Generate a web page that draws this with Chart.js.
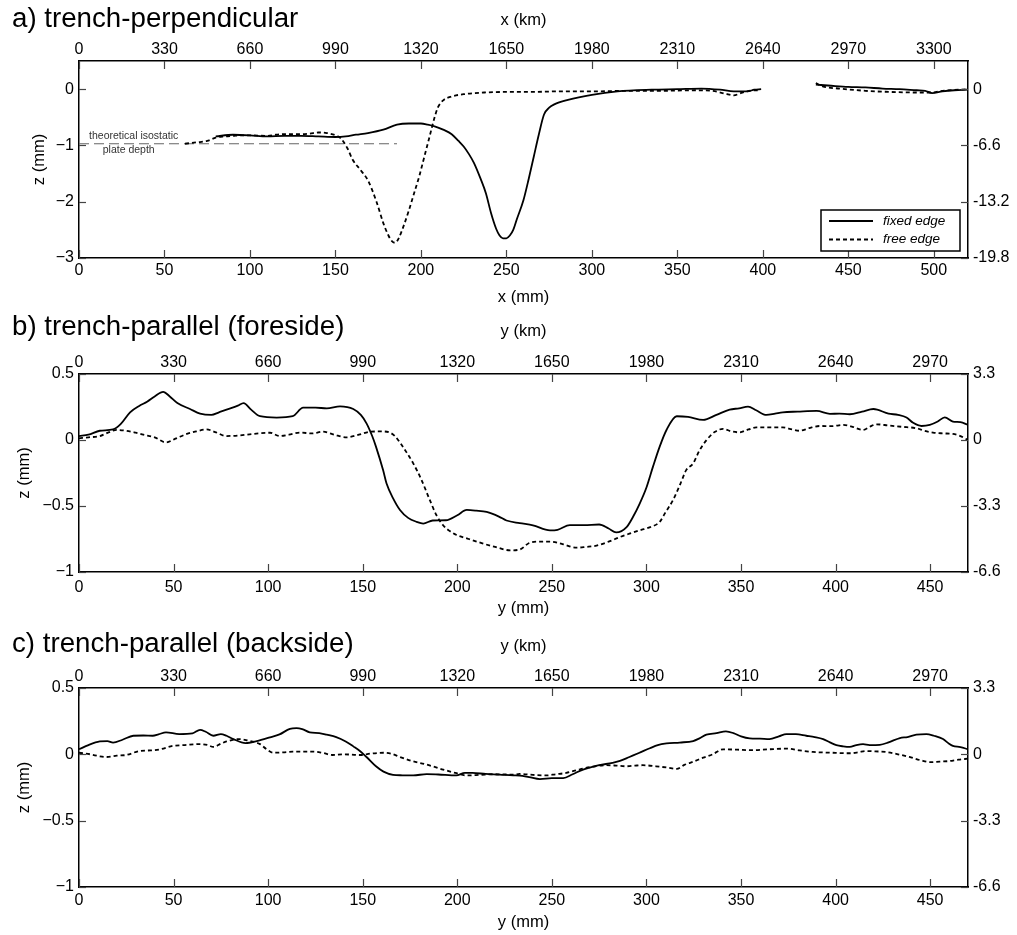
<!DOCTYPE html>
<html>
<head>
<meta charset="utf-8">
<script src="https://cdn.jsdelivr.net/npm/chart.js@4.4.1/dist/chart.umd.min.js"></script>
<style>
	body { margin: 0; background: #fff; }
	canvas { position: absolute; left: 0; }
</style>
</head>
<body>
<canvas id="pa" width="1017" height="310" style="top:0px"></canvas>
<canvas id="pb" width="1017" height="315" style="top:310px"></canvas>
<canvas id="pc" width="1017" height="310" style="top:625px"></canvas>
<script>
// ---- a) trench-perpendicular : x (mm) -> z (mm)
var aFixedX = [80, 90, 100, 110, 120, 130, 140, 150, 156, 162, 169, 178, 186, 193, 200, 204, 208, 213, 218, 222, 225, 228, 231, 235, 238, 241, 244, 246, 248, 250, 252, 254, 256, 260, 263, 266, 269, 272, 275, 278, 286, 300, 315, 335, 350, 364, 375, 383, 391, 395, 399, 415, 431, 440, 450, 460, 470, 480, 490, 495, 499, 505, 512, 520];
var aFixedZ = [-0.84, -0.81, -0.82, -0.84, -0.83, -0.83, -0.84, -0.85, -0.84, -0.81, -0.78, -0.72, -0.63, -0.61, -0.61, -0.63, -0.66, -0.72, -0.8, -0.92, -1.02, -1.15, -1.31, -1.6, -1.85, -2.2, -2.48, -2.6, -2.65, -2.65, -2.6, -2.5, -2.32, -1.97, -1.6, -1.2, -0.8, -0.45, -0.33, -0.27, -0.19, -0.1, -0.04, -0.01, 0, 0.01, -0.01, -0.04, -0.04, -0.01, 0, null, 0.08, 0.06, 0.04, 0.03, 0.01, 0, -0.02, -0.03, -0.07, -0.04, -0.02, -0.01];
var aFreeX = [62, 70, 75, 80, 85, 90, 95, 100, 110, 115, 120, 125, 130, 135, 140, 145, 150, 153, 157, 160, 165, 169, 174, 178, 181, 183, 185, 187, 190, 193, 196, 199, 202, 205, 208, 210, 213, 218, 225, 237, 250, 265, 280, 300, 320, 340, 360, 370, 378, 383, 388, 395, 398, 415, 431, 435, 445, 460, 475, 490, 499, 505, 515, 520];
var aFreeZ = [-0.97, -0.94, -0.92, -0.86, -0.84, -0.83, -0.82, -0.82, -0.83, -0.81, -0.8, -0.8, -0.8, -0.79, -0.77, -0.78, -0.82, -0.87, -1.05, -1.25, -1.45, -1.62, -2.0, -2.38, -2.6, -2.7, -2.73, -2.65, -2.42, -2.15, -1.85, -1.55, -1.2, -0.85, -0.5, -0.32, -0.2, -0.13, -0.09, -0.06, -0.05, -0.05, -0.04, -0.04, -0.03, -0.03, -0.02, -0.03, -0.08, -0.11, -0.06, -0.02, -0.02, null, 0.11, 0.05, 0.01, -0.03, -0.05, -0.06, -0.06, -0.03, -0.01, 0];
var aIsoX = [0, 186];
var aIsoZ = [-0.97, -0.97];

// ---- b) trench-parallel (foreside) : y (mm) -> z (mm)
var bFixedX = [0, 5, 11, 18, 22, 27, 32, 36, 40, 44.5, 48, 52, 58.7, 64, 70, 74, 78, 84, 87, 91, 95.7, 104.5, 113, 118.5, 125, 131, 138, 145, 149, 152, 155, 157, 160.8, 162.6, 166, 169.7, 174, 178.5, 182, 187, 194, 200, 205, 210, 215.5, 222, 226, 233, 240, 249, 253, 259.5, 267, 275, 280, 284, 289.5, 293, 296.5, 300, 303.5, 307, 310.6, 316, 322, 330, 337, 344, 349, 353.7, 358, 363.4, 368, 372, 380, 390, 397, 402, 407.5, 414, 420, 428, 433, 437.5, 441, 445.4, 449.8, 454, 457.7, 462, 466, 470];
var bFixedZ = [0.03, 0.04, 0.07, 0.08, 0.12, 0.21, 0.26, 0.29, 0.33, 0.365, 0.33, 0.28, 0.235, 0.2, 0.19, 0.21, 0.23, 0.26, 0.28, 0.23, 0.18, 0.17, 0.18, 0.245, 0.245, 0.24, 0.255, 0.235, 0.19, 0.126, 0.03, -0.05, -0.23, -0.33, -0.44, -0.53, -0.59, -0.62, -0.633, -0.61, -0.608, -0.57, -0.53, -0.535, -0.545, -0.58, -0.61, -0.63, -0.646, -0.684, -0.68, -0.645, -0.645, -0.64, -0.67, -0.7, -0.66, -0.58, -0.48, -0.36, -0.2, -0.05, 0.076, 0.18, 0.175, 0.152, 0.19, 0.23, 0.24, 0.253, 0.225, 0.19, 0.2, 0.21, 0.215, 0.22, 0.198, 0.2, 0.195, 0.215, 0.235, 0.2, 0.19, 0.17, 0.13, 0.106, 0.114, 0.14, 0.172, 0.14, 0.135, 0.115];
var bFreeX = [0, 5, 11, 16, 20, 25, 30, 34, 40, 46, 51, 57, 62, 67.5, 72, 78, 85, 92, 101, 106, 111, 117, 123, 129, 135, 141.5, 148, 154, 160, 164, 167, 170, 173, 176.7, 181, 185.5, 189, 192.5, 196, 199.6, 206, 213.7, 220, 228, 233, 238, 243, 249, 256, 263, 268, 273.6, 280, 286, 291, 296.5, 302, 307, 310, 314, 318, 321, 324.7, 328, 331.8, 336, 340.5, 345, 349, 354, 358, 365, 372, 377, 381, 386, 391.6, 398, 404, 409, 414.5, 418, 421.6, 428, 435, 442.7, 447, 451.5, 457, 462, 466, 470];
var bFreeZ = [0.013, 0.02, 0.03, 0.06, 0.076, 0.07, 0.055, 0.04, 0.02, -0.018, 0.01, 0.046, 0.065, 0.08, 0.06, 0.03, 0.035, 0.046, 0.055, 0.03, 0.04, 0.056, 0.05, 0.063, 0.04, 0.02, 0.04, 0.063, 0.065, 0.058, 0.03, -0.025, -0.09, -0.177, -0.3, -0.456, -0.57, -0.646, -0.69, -0.72, -0.75, -0.785, -0.81, -0.836, -0.83, -0.78, -0.77, -0.77, -0.79, -0.816, -0.81, -0.8, -0.77, -0.735, -0.71, -0.684, -0.66, -0.62, -0.55, -0.456, -0.33, -0.228, -0.177, -0.08, 0, 0.06, 0.084, 0.065, 0.058, 0.08, 0.096, 0.095, 0.096, 0.08, 0.07, 0.09, 0.106, 0.105, 0.114, 0.1, 0.076, 0.1, 0.119, 0.11, 0.1, 0.089, 0.07, 0.056, 0.05, 0.046, 0.03, 0];

// ---- c) trench-parallel (backside) : y (mm) -> z (mm)
var cFixedX = [0, 5, 11, 15, 18, 23, 28.7, 34, 39, 42, 46, 53, 60, 64, 67, 71, 75, 78, 81.6, 88, 94, 101, 106, 111.5, 115, 118, 122, 127, 131, 136, 141, 145, 148.5, 152, 157, 161, 166, 171, 176.7, 183.8, 190, 199.5, 204, 208, 215, 222.5, 229.5, 233, 238, 243.7, 250, 256, 261, 266.5, 270, 275, 282, 286, 291, 296, 301.8, 306, 310.6, 317.6, 324.7, 328, 331.7, 337, 342, 346, 350, 354.6, 360, 365, 370, 374, 379, 384.5, 389, 393.4, 397, 400.4, 404, 407.5, 411, 414.5, 418, 423.4, 428, 434, 438, 442.7, 448, 452, 456.8, 460, 462, 466, 470];
var cFixedZ = [0.038, 0.07, 0.097, 0.1, 0.089, 0.11, 0.14, 0.142, 0.14, 0.15, 0.166, 0.153, 0.158, 0.185, 0.17, 0.14, 0.153, 0.14, 0.115, 0.085, 0.1, 0.128, 0.15, 0.192, 0.197, 0.19, 0.166, 0.16, 0.148, 0.13, 0.097, 0.06, 0.025, -0.02, -0.09, -0.13, -0.154, -0.158, -0.159, -0.149, -0.152, -0.159, -0.14, -0.14, -0.148, -0.153, -0.159, -0.16, -0.172, -0.187, -0.18, -0.179, -0.15, -0.115, -0.1, -0.082, -0.064, -0.05, -0.02, 0.01, 0.046, 0.07, 0.082, 0.089, 0.1, 0.12, 0.148, 0.16, 0.173, 0.16, 0.135, 0.12, 0.118, 0.115, 0.135, 0.153, 0.152, 0.14, 0.13, 0.115, 0.09, 0.069, 0.06, 0.056, 0.07, 0.077, 0.07, 0.072, 0.09, 0.123, 0.13, 0.148, 0.153, 0.14, 0.115, 0.08, 0.064, 0.055, 0.038];
var cFreeX = [0, 6, 11, 14.6, 20, 25, 32, 38, 43, 49.8, 56, 64, 68, 71, 75, 78, 85, 89, 95.7, 99, 102.7, 108, 113, 118, 124, 129, 134, 140, 148.5, 154, 161, 165, 169.7, 176, 183.8, 188, 192.5, 199, 205, 212, 220, 229.5, 233, 240, 247, 252, 257.6, 263, 268, 273, 278.8, 284, 289.4, 294, 298, 305, 311, 316, 320, 324.7, 330, 335, 340.5, 348, 356, 365, 374, 381, 388, 398, 407.5, 412, 416, 421, 426.7, 433, 439, 445, 450, 455, 460, 465, 470];
var cFreeZ = [0.012, 0, -0.015, -0.02, -0.01, -0.005, 0.025, 0.03, 0.038, 0.064, 0.07, 0.077, 0.07, 0.056, 0.08, 0.097, 0.115, 0.105, 0.077, 0.04, 0.012, 0.015, 0.02, 0.02, 0.02, 0.01, -0.005, 0, -0.005, 0.005, 0.012, 0.005, -0.02, -0.05, -0.077, -0.095, -0.115, -0.14, -0.159, -0.155, -0.15, -0.153, -0.148, -0.155, -0.159, -0.15, -0.14, -0.12, -0.102, -0.09, -0.082, -0.085, -0.09, -0.085, -0.082, -0.09, -0.1, -0.11, -0.08, -0.056, -0.025, 0, 0.038, 0.035, 0.031, 0.038, 0.043, 0.03, 0.018, 0.012, 0.008, 0.015, 0.025, 0.022, 0.018, 0, -0.02, -0.045, -0.059, -0.055, -0.051, -0.04, -0.033];

// ---- tick labels
var aMmTicks = [0, 50, 100, 150, 200, 250, 300, 350, 400, 450, 500];
var aKmTicks = [0, 330, 660, 990, 1320, 1650, 1980, 2310, 2640, 2970, 3300];
var aZTicks = [0, -1, -2, -3];
var aZKmTicks = [0, -6.6, -13.2, -19.8];
var bcMmTicks = [0, 50, 100, 150, 200, 250, 300, 350, 400, 450];
var bcKmTicks = [0, 330, 660, 990, 1320, 1650, 1980, 2310, 2640, 2970];
var bcZTicks = [0.5, 0, -0.5, -1];
var bcZKmTicks = [3.3, 0, -3.3, -6.6];
var kmPerMm = 6.6;

var FONT = '"Liberation Sans", Arial, Helvetica, sans-serif';
Chart.defaults.font.family = FONT;
Chart.defaults.color = '#000';

function pts(xs, zs) {
	return xs.map(function(x, i) { return { x: x, y: zs[i] }; });
}

function minusLabel(v) {
	return v < 0 ? '\u2212' + Math.abs(v) : String(v);
}

function plainLabel(v) {
	return String(v);
}

// ticks pointing into the plot, as in the original figure
var inTicks = {
	id: 'inTicks',
	afterDraw: function(chart) {
		var ctx = chart.ctx, a = chart.chartArea;
		ctx.save();
		ctx.strokeStyle = '#444';
		ctx.lineWidth = 1.2;
		Object.values(chart.scales).forEach(function(s) {
			s.ticks.forEach(function(t) {
				var p = Math.round(s.getPixelForValue(t.value)) + 0.5;
				ctx.beginPath();
				if (s.position === 'left') { ctx.moveTo(a.left, p); ctx.lineTo(a.left + 7, p); }
				if (s.position === 'right') { ctx.moveTo(a.right, p); ctx.lineTo(a.right - 7, p); }
				if (s.position === 'bottom') { ctx.moveTo(p, a.bottom); ctx.lineTo(p, a.bottom - 8); }
				if (s.position === 'top') { ctx.moveTo(p, a.top); ctx.lineTo(p, a.top + 8); }
				ctx.stroke();
			});
		});
		ctx.restore();
	}
};

var panelTitle = {
	id: 'panelTitle',
	afterDraw: function(chart, args, o) {
		if (!o.text) return;
		var ctx = chart.ctx;
		ctx.save();
		ctx.font = '27.7px ' + FONT;
		ctx.fillStyle = '#000';
		ctx.textBaseline = 'alphabetic';
		ctx.fillText(o.text, o.x, o.y);
		ctx.restore();
	}
};

var boxLegend = {
	id: 'boxLegend',
	afterDraw: function(chart, args, o) {
		if (!o.show) return;
		var ctx = chart.ctx;
		ctx.save();
		ctx.fillStyle = '#fff';
		ctx.fillRect(o.x, o.y, o.w, o.h);
		ctx.strokeStyle = '#000';
		ctx.lineWidth = 1.5;
		ctx.strokeRect(o.x, o.y, o.w, o.h);
		var items = chart.data.datasets.filter(function(d) { return d.inLegend; });
		items.forEach(function(d, i) {
			var y = o.y + 11 + i * 18.5;
			ctx.strokeStyle = d.borderColor;
			ctx.lineWidth = d.borderWidth;
			ctx.setLineDash(d.borderDash || []);
			ctx.beginPath();
			ctx.moveTo(o.x + 8, y);
			ctx.lineTo(o.x + 52, y);
			ctx.stroke();
			ctx.setLineDash([]);
			ctx.fillStyle = '#000';
			ctx.font = 'italic 13.5px ' + FONT;
			ctx.textBaseline = 'middle';
			ctx.fillText(d.label, o.x + 62, y);
		});
		ctx.restore();
	}
};

var isoLabel = {
	id: 'isoLabel',
	afterDraw: function(chart, args, o) {
		if (!o.show) return;
		var ctx = chart.ctx;
		var x = chart.scales.x.getPixelForValue(o.at);
		var y = chart.scales.y.getPixelForValue(o.z);
		ctx.save();
		ctx.font = '10.5px ' + FONT;
		ctx.fillStyle = '#333';
		ctx.textAlign = 'center';
		ctx.textBaseline = 'middle';
		ctx.fillText('theoretical isostatic', x, y - 8);
		ctx.fillText('plate depth', x - 5, y + 6);
		ctx.restore();
	}
};

function makePanel(id, p) {
	var H = document.getElementById(id).height;
	var datasets = [
		{ label: 'fixed edge', inLegend: true, data: pts(p.fixedX, p.fixedZ), borderColor: '#000', borderWidth: 1.8, spanGaps: false },
		{ label: 'free edge', inLegend: true, data: pts(p.freeX, p.freeZ), borderColor: '#000', borderWidth: 1.8, borderDash: [4, 3], spanGaps: false }
	];
	if (p.isoX) {
		datasets.push({ label: 'iso', data: pts(p.isoX, p.isoZ), borderColor: '#666', borderWidth: 1.2, borderDash: [10, 5] });
	}
	var tickFont = { size: 16 };
	var titleFont = { size: 16.5 };
	var noGrid = { display: false, drawTicks: false };
	var border = { display: true, color: '#000', width: 1.5 };
	return new Chart(document.getElementById(id), {
		type: 'line',
		data: { datasets: datasets },
		options: {
			responsive: false,
			animation: false,
			devicePixelRatio: 1,
			layout: { padding: 0 },
			elements: { point: { radius: 0 }, line: { cubicInterpolationMode: 'monotone', borderJoinStyle: 'round' } },
			plugins: {
				legend: { display: false },
				tooltip: { enabled: false },
				panelTitle: { text: p.title, x: 12, y: p.titleY },
				boxLegend: { show: p.legend, x: 821, y: 210, w: 139, h: 41 },
				isoLabel: { show: !!p.isoX, at: 32, z: p.isoZ ? p.isoZ[0] : 0 }
			},
			scales: {
				x: {
					type: 'linear', position: 'bottom', min: 0, max: p.xMax,
					grid: noGrid, border: border,
					afterBuildTicks: function(s) { s.ticks = p.mmTicks.map(function(v) { return { value: v }; }); },
					afterFit: function(s) { s.height = H - p.bottom; },
					ticks: { font: tickFont, padding: p.botPad, maxRotation: 0, autoSkip: false, callback: plainLabel },
					title: { display: true, text: p.xName + ' (mm)', font: titleFont, padding: { top: 0, bottom: p.xTitlePad } }
				},
				x2: {
					type: 'linear', position: 'top', min: 0, max: p.xMax * kmPerMm,
					grid: noGrid, border: border,
					afterBuildTicks: function(s) { s.ticks = p.kmTicks.map(function(v) { return { value: v }; }); },
					afterFit: function(s) { s.height = p.top; },
					ticks: { font: tickFont, padding: 2, maxRotation: 0, autoSkip: false, callback: plainLabel },
					title: { display: true, text: p.xName + ' (km)', font: titleFont, padding: { top: p.kmTitlePad, bottom: 0 } }
				},
				y: {
					type: 'linear', position: 'left', min: p.zMin, max: p.zMax,
					grid: noGrid, border: border,
					afterBuildTicks: function(s) { s.ticks = p.zTicks.map(function(v) { return { value: v }; }); },
					afterFit: function(s) { s.width = 79; },
					ticks: { font: tickFont, padding: 5, callback: minusLabel },
					title: { display: true, text: 'z (mm)', font: titleFont, padding: { top: p.zTitlePad, bottom: 0 } }
				},
				y2: {
					type: 'linear', position: 'right', min: p.zMin * kmPerMm, max: p.zMax * kmPerMm,
					grid: noGrid, border: border,
					afterBuildTicks: function(s) { s.ticks = p.zKmTicks.map(function(v) { return { value: v }; }); },
					afterFit: function(s) { s.width = 1017 - 968; },
					ticks: { font: tickFont, padding: 5, callback: plainLabel }
				}
			}
		},
		plugins: [inTicks, panelTitle, boxLegend, isoLabel]
	});
}

makePanel('pa', {
	title: 'a) trench-perpendicular', titleY: 27, xName: 'x', legend: true,
	fixedX: aFixedX, fixedZ: aFixedZ, freeX: aFreeX, freeZ: aFreeZ, isoX: aIsoX, isoZ: aIsoZ,
	xMax: 520, zMin: -3, zMax: 0.5,
	mmTicks: aMmTicks, kmTicks: aKmTicks, zTicks: aZTicks, zKmTicks: aZKmTicks,
	top: 61, bottom: 258, botPad: 3, xTitlePad: 2.5, kmTitlePad: 10.5, zTitlePad: 30
});

makePanel('pb', {
	title: 'b) trench-parallel (foreside)', titleY: 25, xName: 'y', legend: false,
	fixedX: bFixedX, fixedZ: bFixedZ, freeX: bFreeX, freeZ: bFreeZ,
	xMax: 470, zMin: -1, zMax: 0.5,
	mmTicks: bcMmTicks, kmTicks: bcKmTicks, zTicks: bcZTicks, zKmTicks: bcZKmTicks,
	top: 64, bottom: 262, botPad: 6, xTitlePad: 7, kmTitlePad: 11.5, zTitlePad: 15
});

makePanel('pc', {
	title: 'c) trench-parallel (backside)', titleY: 27, xName: 'y', legend: false,
	fixedX: cFixedX, fixedZ: cFixedZ, freeX: cFreeX, freeZ: cFreeZ,
	xMax: 470, zMin: -1, zMax: 0.5,
	mmTicks: bcMmTicks, kmTicks: bcKmTicks, zTicks: bcZTicks, zKmTicks: bcZKmTicks,
	top: 63, bottom: 262, botPad: 4, xTitlePad: 2.5, kmTitlePad: 12, zTitlePad: 15
});
</script>
</body>
</html>
